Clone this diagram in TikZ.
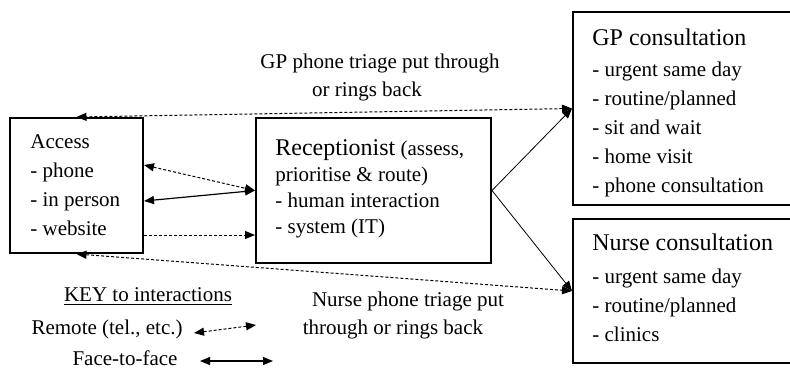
\documentclass[tikz,border=0pt]{standalone}
\usepackage{fontspec}
\setmainfont{Liberation Serif}
\usetikzlibrary{arrows.meta, calc, positioning}

\begin{document}
\begin{tikzpicture}[x=0.5pt, y=-0.5pt,
	box/.style={draw, line width=1pt, inner sep=0pt},
	body/.style={anchor=north west, align=left, inner sep=0pt, font=\fontsize{10.5}{14.5}\selectfont},
	label/.style={inner sep=0pt, font=\fontsize{10.5}{14}\selectfont},
	remote/.style={line width=0.5pt, dash pattern=on 1.5pt off 1pt},
	facetoface/.style={line width=0.6pt},
	tip/.style={-{Triangle[length=5pt, width=4pt]}},
	both/.style={{Triangle[length=5pt, width=4pt]}-{Triangle[length=5pt, width=4pt]}}]
	\clip (0,0) rectangle (790,370);
	% Boxes
	\node[box, minimum width=66.5pt, minimum height=67.5pt] (access) at (76.5,185.5) {};
	\node[box, minimum width=117.5pt, minimum height=72.5pt] (recep) at (373.5,190.5) {};
	\node[box, minimum width=112pt, minimum height=96.5pt] (gp) at (685,108.5) {};
	\node[box, minimum width=112pt, minimum height=72pt] (nurse) at (685,291) {};
	
	% Box texts
	\node[body] (accesstxt) at ($(access.north west)+(21,17)$)
		{Access\\- phone\\- in person\\- website};
	\node[body, font=\fontsize{10.5}{13}\selectfont] (receptxt) at ($(recep.north west)+(20,22)$)
		{{\fontsize{12}{13}\selectfont Receptionist} (assess,\\prioritise \& route)\\- human interaction\\- system (IT)};
	\node[body] (gptxt) at ($(gp.north west)+(20,17)$)
		{{\fontsize{12}{14.5}\selectfont GP consultation}\\[1pt]- urgent same day\\- routine/planned\\- sit and wait\\- home visit\\- phone consultation};
	\node[body] (nursetxt) at ($(nurse.north west)+(20,15)$)
		{{\fontsize{12}{14.5}\selectfont Nurse consultation}\\[2pt]- urgent same day\\- routine/planned\\- clinics};
	
	% Triage labels
	\node[label, align=center] (gplabel) at (380,77) {GP phone triage put through\\or rings back\hspace*{13pt}};
	\node[label, align=center] (nurselabel) at (408,315) {Nurse phone triage put\\through or rings back\hspace*{15pt}};
	
	% Key
	\node[label] (key) at (148,297) {\underline{KEY to interactions}};
	\node[label, anchor=east] (remotekey) at (183,329) {Remote (tel., etc.)};
	\node[label] (facekey) at (125,358) {Face-to-face};
	\coordinate (remoteA) at (194,333);
	\coordinate (remoteB) at (256,325);
	\coordinate (faceA) at (200,361);
	\coordinate (faceB) at (273,361);
	\draw[remote, both] (remoteA) -- (remoteB);
	\draw[facetoface, both] (faceA) -- (faceB);
	
	% Interactions
	\draw[remote, both] (gp.west) -- (access.north);
	\draw[remote, both] (access.south) -- (nurse.west);
	\draw[remote, both] (access.east |- 0,165) -- (recep.west);
	\draw[facetoface, both] (access.east |- 0,201) -- (recep.west);
	\draw[remote, tip] (access.east |- 0,235) -- (recep.west |- 0,235);
	\draw[line width=0.4pt, tip] (recep.east) -- (gp.west);
	\draw[line width=0.4pt, tip] (recep.east) -- (nurse.west);
\end{tikzpicture}
\end{document}
